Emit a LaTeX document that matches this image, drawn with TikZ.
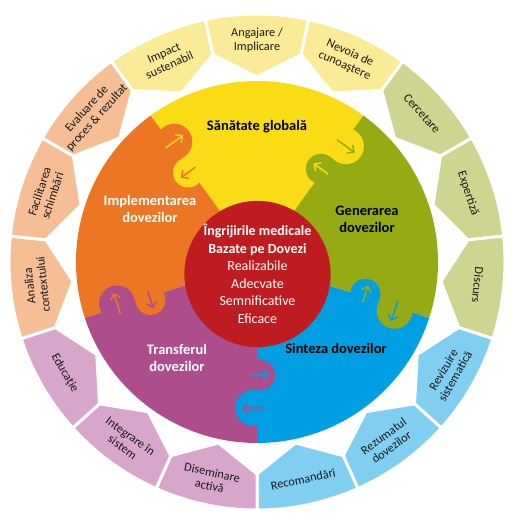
\documentclass[tikz,border=0pt]{standalone}
\usepackage{fontspec}
\setmainfont{Carlito}
\usetikzlibrary{arrows.meta}

\definecolor{ringyellow}{RGB}{250,236,150}
\definecolor{ringgreen}{RGB}{205,213,145}
\definecolor{ringblue}{RGB}{128,206,240}
\definecolor{ringpink}{RGB}{216,166,202}
\definecolor{ringpeach}{RGB}{245,190,148}
\definecolor{puzyellow}{RGB}{249,219,22}
\definecolor{puzgreen}{RGB}{150,170,20}
\definecolor{puzblue}{RGB}{0,159,227}
\definecolor{puzpurple}{RGB}{173,77,139}
\definecolor{puzorange}{RGB}{236,118,36}
\definecolor{corered}{RGB}{190,28,32}

\tikzset{
    ringseg/.style={
        draw=white,
        line width=3pt,
        line join=round,
    },
    ringtext/.style={
        align=center,
        text=black!90,
        font=\fontsize{12.3}{13.5}\selectfont,
    },
    sectortext/.style={
        align=center,
        font=\fontsize{14.5}{17}\selectfont\bfseries,
    },
    knobarrow/.style={
        -{Straight Barb[length=5pt,width=10pt]},
        line width=1.5pt,
    },
    redcore/.style={
        circle,
        fill=corered,
        text=white,
        align=center,
        inner sep=0pt,
        minimum size=142pt,
        font=\fontsize{14}{17.5}\selectfont,
    },
}

% angle, colour, text, rotation, name
\newcommand{\ringsegment}[5]{%
    \path[ringseg, fill=#2] ({#1-12}:248) arc[start angle={#1-12}, end angle={#1+12}, radius=248]
        -- ({#1+12}:212) -- (#1:185) -- ({#1-12}:212) -- cycle;
    \node[ringtext, rotate=#4] (#5) at (#1:222) {#3};
}

% boundary angle, outer knob colour, inner knob colour
\newcommand{\puzzleknob}[3]{%
    \fill[#2] ({#1-1.5}:146) circle[radius=18];
    \fill[#3] ({#1+1.6}:113) circle[radius=15];
    \draw[knobarrow, #3] ({#1-1.5}:146) ++({#1+90}:11) -- ++({#1-90}:22);
    \draw[knobarrow, #2] ({#1+1.6}:113) ++({#1-90}:9) -- ++({#1+90}:18);
}

\begin{document}
\begin{tikzpicture}[x=1pt, y=1pt]
    \useasboundingbox (-257,-254) rectangle (255,262);

    % outer ring
    \ringsegment{114}{ringyellow}{Impact\\sustenabil}{24}{impact}
    \ringsegment{90}{ringyellow}{Angajare /\\Implicare}{0}{angajare}
    \ringsegment{66}{ringyellow}{Nevoia de\\cunoaştere}{-24}{nevoia}
    \ringsegment{42}{ringgreen}{Cercetare}{-48}{cercetare}
    \ringsegment{18}{ringgreen}{Expertiză}{-72}{expertiza}
    \ringsegment{-6}{ringgreen}{Discurs}{-96}{discurs}
    \ringsegment{-30}{ringblue}{Revizuire\\sistematică}{60}{revizuire}
    \ringsegment{-54}{ringblue}{Rezumatul\\dovezilor}{36}{rezumatul}
    \ringsegment{-78}{ringblue}{Recomandări}{12}{recomandari}
    \ringsegment{-102}{ringpink}{Diseminare\\activă}{-12}{diseminare}
    \ringsegment{-126}{ringpink}{Integrare în\\sistem}{-36}{integrare}
    \ringsegment{-150}{ringpink}{Educaţie}{-60}{educatie}
    \ringsegment{186}{ringpeach}{Analiza\\contextului}{96}{analiza}
    \ringsegment{162}{ringpeach}{Facilitarea\\schimbări}{72}{facilitarea}
    \ringsegment{138}{ringpeach}{Evaluare de\\proces \& rezultat}{48}{evaluare}

    % puzzle sectors
    \fill[puzyellow] (0,0) -- (54:181) arc[start angle=54, end angle=126, radius=181] -- cycle;
    \fill[puzorange] (0,0) -- (126:181) arc[start angle=126, end angle=198, radius=181] -- cycle;
    \fill[puzpurple] (0,0) -- (198:181) arc[start angle=198, end angle=270, radius=181] -- cycle;
    \fill[puzblue] (0,0) -- (270:181) arc[start angle=270, end angle=342, radius=181] -- cycle;
    \fill[puzgreen] (0,0) -- (342:181) arc[start angle=342, end angle=414, radius=181] -- cycle;

    \puzzleknob{54}{puzyellow}{puzgreen}
    \puzzleknob{126}{puzorange}{puzyellow}
    \puzzleknob{198}{puzpurple}{puzorange}
    \puzzleknob{270}{puzblue}{puzpurple}
    \puzzleknob{342}{puzgreen}{puzblue}

    \node[sectortext] (sanatate) at (0,135) {Sănătate globală};
    \node[sectortext, text=white] (implementarea) at (-107,53) {Implementarea\\dovezilor};
    \node[sectortext] (generarea) at (110,43) {Generarea\\dovezilor};
    \node[sectortext] (sinteza) at (79,-86) {Sinteza dovezilor};
    \node[sectortext, text=white] (transferul) at (-80,-96) {Transferul\\dovezilor};

    % centre
    \node[redcore] (core) at (0.5,-12) {\textbf{Îngrijirile medicale}\\\textbf{Bazate pe Dovezi}\\Realizabile\\Adecvate\\Semnificative\\Eficace};
\end{tikzpicture}
\end{document}
